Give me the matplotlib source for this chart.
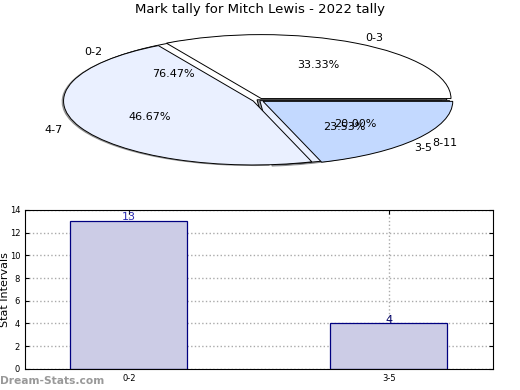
import matplotlib
matplotlib.use('Agg')
import matplotlib.pyplot as plt

# pie data (two sets drawn on the same axes)
marks_labels = ['0-2', '3-5']
marks_counts = [13, 4]
tally_labels = ['0-3', '4-7', '8-11']
tally_counts = [5, 7, 3]

# bar data
bar_labels = ['0-2', '3-5']
bar_values = [13, 4]

fig = plt.figure(figsize=(5.2, 3.9), dpi=100)

# top: the squashed pies
ax1 = fig.add_axes([0.041, 0.538, 0.912, 0.41])
ax1.pie(marks_counts, labels=marks_labels, autopct='%1.2f%%', shadow=True,
        colors=['white', '#eaf0ff'], explode=[0.01, 0.01],
        wedgeprops={'edgecolor': 'black', 'linewidth': 0.7},
        textprops={'fontsize': 8})
ax1.pie(tally_counts, labels=tally_labels, autopct='%1.2f%%', shadow=False,
        colors=['white', '#eaf0ff', '#c3d9ff'], explode=[0.03, 0.03, 0.03],
        wedgeprops={'edgecolor': 'black', 'linewidth': 0.7},
        textprops={'fontsize': 8})
ax1.set_aspect('auto')
ax1.set_xlim(-1.25, 1.25)
ax1.set_ylim(-1.25, 1.25)
fig.text(0.5, 0.975, 'Mark tally for Mitch Lewis - 2022 tally', ha='center', va='center', fontsize=9.5)

# bottom: bar chart
ax2 = fig.add_axes([0.048, 0.054, 0.9, 0.408])
pos = list(range(len(bar_values)))
bars = ax2.bar(pos, bar_values, width=0.45, color='#ccccE6', edgecolor='navy', linewidth=0.9, zorder=2)
for b, v, c in zip(bars, bar_values, ['#2a2ab0', '#000066']):
    ax2.text(b.get_x() + b.get_width() / 2, v - 0.1, str(v), ha='center', va='bottom', fontsize=8, color=c, zorder=3)
ax2.set_xticks(pos)
ax2.set_xticklabels(bar_labels)
ax2.set_xlim(-0.4, 1.4)
ax2.set_ylim(0, 14)
ax2.set_yticks(range(0, 15, 2))
ax2.tick_params(labelsize=6, direction='in', top=True, right=True, length=3)
ax2.grid(True, linestyle=':', color='#aaaaaa', linewidth=1, zorder=3)
ax2.set_ylabel('Stat Intervals', fontsize=8, labelpad=0)
ax2.set_xlabel('Frequency', fontsize=8, labelpad=8)

fig.text(0.0, 0.022, 'Dream-Stats.com', fontsize=7.7, color='#999999', fontweight='bold', ha='left', va='center')

fig.savefig('out.png', dpi=100)
